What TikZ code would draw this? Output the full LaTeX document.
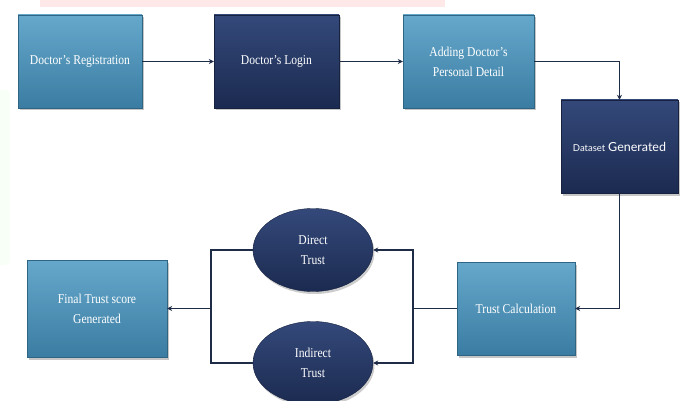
\documentclass[tikz,border=0pt]{standalone}
\usepackage{fontspec}
\setmainfont{Liberation Serif}[FakeStretch=0.86]
\newfontfamily\gillfont{Lato}
\usetikzlibrary{shadows,arrows.meta,shapes.geometric}
\definecolor{lighttop}{HTML}{66A8CC}
\definecolor{lightbot}{HTML}{3B7DA2}
\definecolor{darktop}{HTML}{34497A}
\definecolor{darkbot}{HTML}{1B2A50}
\definecolor{linecol}{HTML}{1E2C48}
\begin{document}
\begin{tikzpicture}[x=1pt,y=-1pt,
  lightbox/.style={rectangle, draw=lightbot!80!black, line width=0.4pt,
    top color=lighttop, bottom color=lightbot, text=white, align=center,
    font=\fontsize{13.5}{20}\selectfont, inner sep=0pt,
    drop shadow={opacity=0.45, shadow xshift=1.5pt, shadow yshift=-2.5pt}},
  darkbox/.style={rectangle, draw=darkbot!80!black, line width=0.4pt,
    top color=darktop, bottom color=darkbot, text=white, align=center,
    font=\fontsize{13.5}{20}\selectfont, inner sep=0pt,
    drop shadow={opacity=0.45, shadow xshift=1.5pt, shadow yshift=-2.5pt}},
  darkell/.style={ellipse, draw=darkbot!80!black, line width=0.4pt,
    top color=darktop, bottom color=darkbot, text=white, align=center,
    font=\fontsize{13.5}{20}\selectfont, inner sep=0pt,
    minimum width=120pt, minimum height=83pt,
    drop shadow={opacity=0.4, shadow xshift=1.5pt, shadow yshift=-2.5pt}},
  conn/.style={draw=linecol, line width=1.8pt},
  arr/.style={conn, -{Stealth[length=5pt,width=5pt]}}
]
\useasboundingbox (0,0) rectangle (683,401);
% faint watermark traces
\fill[red!18, opacity=0.5] (40,0) rectangle (445,7);
\fill[green!8, opacity=0.4, rounded corners=5pt] (-5,90) rectangle (10,265);

\node[lightbox, minimum width=124pt, minimum height=93pt] (reg) at (80,61.5) {Doctor’s Registration};
\node[darkbox, minimum width=125pt, minimum height=93pt] (login) at (276.5,61.5) {Doctor’s Login};
\node[lightbox, minimum width=131pt, minimum height=93pt] (pers) at (468.5,61.5) {Adding Doctor’s\\Personal Detail};
\node[darkbox, minimum width=117pt, minimum height=93pt] (data) at (619.5,146.5) {{\gillfont\fontsize{9.5}{12}\selectfont Dataset} {\gillfont\fontsize{12.5}{15}\selectfont Generated}};
\node[lightbox, minimum width=118pt, minimum height=93pt] (calc) at (516,308.5) {Trust Calculation};
\node[lightbox, minimum width=140pt, minimum height=97pt] (final) at (97,308.5) {Final Trust score\\Generated};
\node[darkell] (direct) at (313,250) {Direct\\Trust};
\node[darkell] (indirect) at (313,363) {Indirect\\Trust};

\coordinate (rj) at (413,308.5);
\coordinate (lj) at (211,308.5);

\draw[arr] (reg.east) -- (login.west);
\draw[arr] (login.east) -- (pers.west);
\draw[arr] (pers.east) -| (data.north);
\draw[arr] (data.south) |- (calc.east);
\draw[conn] (calc.west) -- (rj);
\draw[arr] (rj) |- (direct.east);
\draw[arr] (rj) |- (indirect.east);
\draw[conn] (direct.west) -| (lj);
\draw[conn] (indirect.west) -| (lj);
\draw[arr] (lj) -- (final.east);
\end{tikzpicture}
\end{document}
